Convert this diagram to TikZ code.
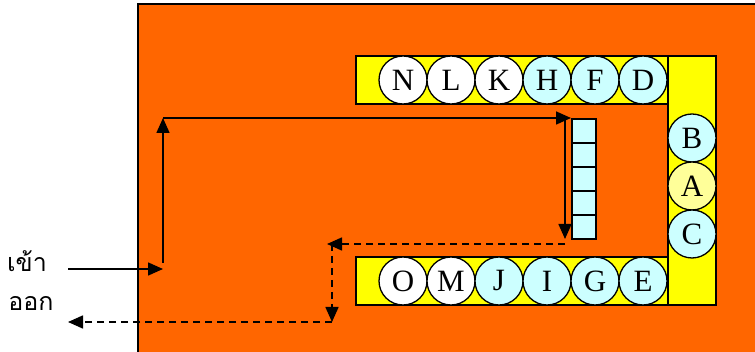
\documentclass[tikz,border=0pt]{standalone}
\usepackage{fontspec}
\setmainfont{Liberation Serif}
\newfontfamily\thaifont[Script=Thai]{Loma}
\usetikzlibrary{arrows.meta, positioning}

\definecolor{bgorange}{HTML}{FF6600}
\definecolor{baryellow}{HTML}{FFFF00}
\definecolor{carcyan}{HTML}{CCFFFF}
\definecolor{caryellow}{HTML}{FFFF99}

\tikzset{
  car/.style = {circle, draw=black, line width=1.3pt, fill=#1,
      minimum size=48pt, inner sep=0pt, outer sep=0pt,
      font=\fontsize{31}{31}\selectfont},
  car/.default = white,
  bar/.style = {draw=black, line width=2pt, fill=baryellow},
  slot/.style = {rectangle, draw=black, line width=1.5pt, fill=carcyan,
      minimum width=24pt, minimum height=24pt, inner sep=0pt, outer sep=0pt},
  flow/.style = {line width=1.6pt, -{Triangle[length=15pt, width=13pt]}},
  back/.style = {flow, dash pattern=on 7pt off 5pt},
  label/.style = {font=\thaifont\fontsize{25}{25}\selectfont, inner sep=0pt},
}

\begin{document}
\begin{tikzpicture}[x=1pt, y=-1pt]
  \useasboundingbox (0,0) rectangle (755,352);

  % building
  \fill[bgorange] (138,4) rectangle (755,352);
  \draw[line width=2pt] (138,352) -- (138,4) -- (755,4);

  % parking bays
  \draw[bar] (356,56) rectangle (668,104);
  \draw[bar] (356,257) rectangle (668,305);
  \draw[bar] (668,56) rectangle (716,305);

  \node[car] (N) at (403,80) {N};
  \node[car, right=0pt of N] (L) {L};
  \node[car, right=0pt of L] (K) {K};
  \node[car=carcyan, right=0pt of K] (H) {H};
  \node[car=carcyan, right=0pt of H] (F) {F};
  \node[car=carcyan, right=0pt of F] (D) {D};

  \node[car] (O) at (403,281) {O};
  \node[car, right=0pt of O] (M) {M};
  \node[car=carcyan, right=0pt of M] (J) {J};
  \node[car=carcyan, right=0pt of J] (I) {I};
  \node[car=carcyan, right=0pt of I] (G) {G};
  \node[car=carcyan, right=0pt of G] (E) {E};

  \node[car=carcyan] (B) at (692,138) {B};
  \node[car=caryellow, below=0pt of B] (A) {A};
  \node[car=carcyan, below=0pt of A] (C) {C};

  % queue
  \node[slot] (s1) at (584,131) {};
  \node[slot, below=0pt of s1] (s2) {};
  \node[slot, below=0pt of s2] (s3) {};
  \node[slot, below=0pt of s3] (s4) {};
  \node[slot, below=0pt of s4] (s5) {};

  \node[label] (enter) at (27,261) {เข้า};
  \node[label] (leave) at (31,303) {ออก};

  \coordinate (in) at (68,269);
  \coordinate (turn1) at (163,269);
  \coordinate (turn2) at (163,118);
  \coordinate (turn3) at (571,118);
  \coordinate (down1) at (565,118);
  \coordinate (down2) at (565,239);
  \coordinate (ret1) at (565,244);
  \coordinate (ret2) at (327,244);
  \coordinate (ret3) at (332,244);
  \coordinate (ret4) at (332,322);
  \coordinate (out) at (68,322);

  \draw[flow] (in) -- (turn1);
  \draw[flow] (163,263) -- (turn2);
  \draw[flow] (turn2) -- (turn3);
  \draw[flow] (down1) -- (down2);
  \draw[back] (ret1) -- (ret2);
  \draw[back] (ret3) -- (ret4);
  \draw[back] (ret4) -- (out);
\end{tikzpicture}
\end{document}
